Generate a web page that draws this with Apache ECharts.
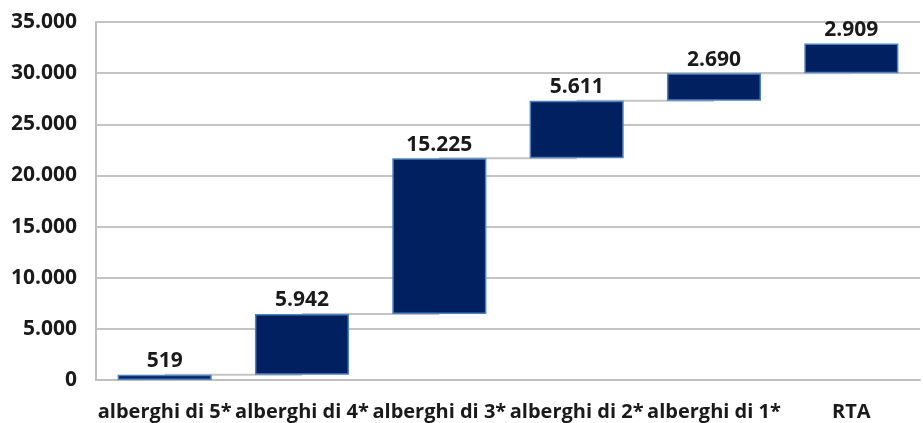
<!DOCTYPE html>
<html><head><meta charset="utf-8">
<script src="https://cdn.jsdelivr.net/npm/echarts@6/dist/echarts.min.js"></script>
<style>html,body{margin:0;padding:0;background:#fff}#c{width:923px;height:423px}</style>
</head><body><div id="c"></div>
<script>
const categories = ['alberghi di 5*', 'alberghi di 4*', 'alberghi di 3*', 'alberghi di 2*', 'alberghi di 1*', 'RTA'];
const values = [519, 5942, 15225, 5611, 2690, 2909];
const yTicks = [0, 5000, 10000, 15000, 20000, 25000, 30000, 35000];

const bases = [];
let acc = 0;
values.forEach(v => { bases.push(acc); acc += v; });
const connectors = [];
for (let i = 0; i < values.length - 1; i++) connectors.push([i, bases[i] + values[i]]);

const fmt = v => String(v).replace(/\B(?=(\d{3})+(?!\d))/g, '.');
const FONT = 'Open Sans';

const chart = echarts.init(document.getElementById('c'), null, {renderer: 'canvas'});
chart.setOption({
  animation: false,
  grid: {left: 96, right: 3, top: 22, bottom: 43, containLabel: false},
  xAxis: {
    type: 'category', data: categories,
    axisLine: {lineStyle: {color: '#bfbfbf', width: 2}},
    axisTick: {show: false},
    axisLabel: {interval: 0, color: '#1a1a1a', fontFamily: FONT, fontWeight: 'bold', fontSize: 20, margin: 22}
  },
  yAxis: {
    type: 'value', min: yTicks[0], max: yTicks[yTicks.length - 1], interval: 5000,
    axisLine: {show: true, lineStyle: {color: '#bfbfbf', width: 2}},
    axisTick: {show: false},
    splitLine: {lineStyle: {color: '#c4c4c4', width: 2}},
    axisLabel: {formatter: fmt, color: '#1a1a1a', fontFamily: FONT, fontWeight: 'bold', fontSize: 21, margin: 19}
  },
  series: [
    {
      type: 'custom', z: 1, silent: true,
      data: connectors,
      renderItem: (params, api) => {
        const a = api.coord([api.value(0), api.value(1)]);
        const b = api.coord([api.value(0) + 1, api.value(1)]);
        return {type: 'line', shape: {x1: a[0], y1: a[1], x2: b[0], y2: b[1]},
          style: {stroke: '#c4c4c4', lineWidth: 2}};
      }
    },
    {
      type: 'bar', stack: 'w', data: bases, barWidth: '68.5%', z: 2,
      itemStyle: {color: 'transparent'}, silent: true
    },
    {
      type: 'bar', stack: 'w', data: values, barWidth: '68.5%', z: 3,
      itemStyle: {color: '#002060', borderColor: '#4f81bd', borderWidth: 1.5},
      label: {show: true, position: 'top', distance: 3, formatter: p => fmt(p.value),
        color: '#1a1a1a', fontFamily: FONT, fontWeight: 'bold', fontSize: 21}
    }
  ]
});
</script></body></html>
